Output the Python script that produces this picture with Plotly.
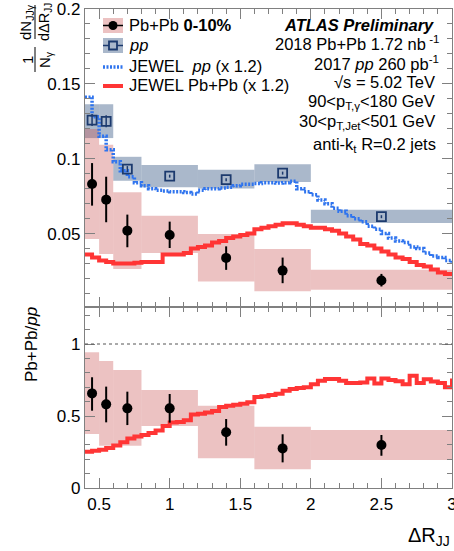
import plotly.graph_objects as go
from plotly.subplots import make_subplots

# ---------------- data ----------------
bin_lo = [0.4, 0.5, 0.6, 0.8, 1.2, 1.6, 2.0]
bin_hi = [0.5, 0.6, 0.8, 1.2, 1.6, 2.0, 3.0]
x_pts = [0.45, 0.55, 0.7, 1.0, 1.4, 1.8, 2.5]

pbpb_y = [0.0831, 0.0727, 0.052, 0.0491, 0.0338, 0.0253, 0.0187]
pbpb_err_up = [0.014, 0.0153, 0.0107, 0.0089, 0.0077, 0.0087, 0.0044]
pbpb_err_dn = [0.0144, 0.0151, 0.0111, 0.0087, 0.008, 0.0084, 0.004]
pbpb_sys_hi = [0.1198, 0.1093, 0.0776, 0.062, 0.0498, 0.0398, 0.0258]
pbpb_sys_lo = [0.0464, 0.0364, 0.0264, 0.0371, 0.018, 0.0115, 0.0125]

pp_y = [0.1258, 0.125, 0.0931, 0.0884, 0.086, 0.0904, 0.0613]
pp_err = [0.004, 0.004, 0.002, 0.001, 0.001, 0.001, 0.001]
pp_sys_hi = [0.1364, 0.1364, 0.1013, 0.0958, 0.0927, 0.0964, 0.066]
pp_sys_lo = [0.1138, 0.1138, 0.0853, 0.081, 0.0802, 0.0844, 0.0571]

ratio_y = [0.657, 0.581, 0.553, 0.553, 0.387, 0.275, 0.299]
ratio_err_up = [0.112, 0.123, 0.116, 0.1, 0.092, 0.098, 0.069]
ratio_err_dn = [0.12, 0.125, 0.116, 0.099, 0.093, 0.097, 0.075]
ratio_sys_hi = [0.942, 0.882, 0.819, 0.681, 0.572, 0.426, 0.403]
ratio_sys_lo = [0.375, 0.294, 0.294, 0.431, 0.206, 0.130, 0.194]

jewel_x = [0.40, 0.45, 0.50, 0.55, 0.60, 0.65, 0.70, 0.75, 0.80, 0.85,
           0.90, 0.95, 1.00, 1.05, 1.10, 1.15, 1.20, 1.25, 1.30, 1.35,
           1.40, 1.45, 1.50, 1.55, 1.60, 1.65, 1.70, 1.75, 1.80, 1.85,
           1.90, 1.95, 2.00, 2.05, 2.10, 2.15, 2.20, 2.25, 2.30, 2.35,
           2.40, 2.45, 2.50, 2.55, 2.60, 2.65, 2.70, 2.75, 2.80, 2.85,
           2.90, 2.95, 3.00]
jewel_pp = [0.141, 0.128, 0.115, 0.106, 0.098, 0.092, 0.088, 0.084, 0.082, 0.080,
            0.079, 0.0785, 0.078, 0.078, 0.0775, 0.0765, 0.079, 0.080, 0.080, 0.0805,
            0.081, 0.082, 0.083, 0.083, 0.0835, 0.084, 0.084, 0.0838, 0.084, 0.085,
            0.080, 0.078, 0.076, 0.0725, 0.070, 0.067, 0.065, 0.062, 0.060, 0.058,
            0.055, 0.053, 0.050, 0.047, 0.045, 0.044, 0.041, 0.040, 0.037, 0.035,
            0.034, 0.032, 0.030]
jewel_pbpb = [0.036, 0.034, 0.032, 0.031, 0.030, 0.030, 0.030, 0.0305, 0.031, 0.031,
              0.031, 0.036, 0.036, 0.036, 0.037, 0.040, 0.041, 0.042, 0.044, 0.045,
              0.047, 0.048, 0.049, 0.050, 0.053, 0.054, 0.055, 0.056, 0.057, 0.057,
              0.056, 0.055, 0.054, 0.054, 0.053, 0.052, 0.050, 0.048, 0.046, 0.043,
              0.042, 0.040, 0.038, 0.036, 0.034, 0.033, 0.031, 0.029, 0.028, 0.026,
              0.024, 0.023, 0.023]
jewel_ratio = [0.252, 0.258, 0.266, 0.278, 0.295, 0.318, 0.343, 0.358, 0.368, 0.382,
               0.400, 0.430, 0.455, 0.458, 0.470, 0.510, 0.516, 0.525, 0.535, 0.562,
               0.572, 0.578, 0.585, 0.595, 0.632, 0.638, 0.645, 0.655, 0.675, 0.688,
               0.695, 0.700, 0.720, 0.745, 0.757, 0.757, 0.745, 0.730, 0.730, 0.732,
               0.760, 0.725, 0.760, 0.750, 0.742, 0.720, 0.780, 0.730, 0.755, 0.740,
               0.730, 0.700, 0.760]

x_tickvals = [0.5, 1.0, 1.5, 2.0, 2.5, 3.0]
x_ticktext = ["0.5", "1", "1.5", "2", "2.5", "3"]

# ---------------- styles ----------------
FONT = "Liberation Sans, Arial, sans-serif"
PINK = "rgba(200,80,80,0.35)"
GREY = "rgba(100,125,160,0.55)"
NAVY = "#1c3a6e"
BLUE = "#2f74ee"
RED = "#ff3535"
AX = "#808080"
BLUE_DASH = "2px,1.5px"

W, H = 454, 551
ML, MR, MT, MB = 85, 2, 9, 63
PW, PH = W - ML - MR, H - MT - MB
split = (488 - 307) / PH


def px(x):
    return (x - ML) / PW


def py(y):
    return (H - MB - y) / PH


fig = make_subplots(rows=2, cols=1, shared_xaxes=True, vertical_spacing=0,
                    row_heights=[1 - split, split])

shapes = []
for lo, hi, a, b in zip(bin_lo, bin_hi, pp_sys_lo, pp_sys_hi):
    shapes.append(dict(type="rect", xref="x", yref="y", x0=lo, x1=hi, y0=a, y1=b,
                       fillcolor=GREY, line=dict(width=0), layer="below"))
for lo, hi, a, b in zip(bin_lo, bin_hi, pbpb_sys_lo, pbpb_sys_hi):
    shapes.append(dict(type="rect", xref="x", yref="y", x0=lo, x1=hi, y0=a, y1=b,
                       fillcolor=PINK, line=dict(width=0), layer="below"))
for lo, hi, a, b in zip(bin_lo, bin_hi, ratio_sys_lo, ratio_sys_hi):
    shapes.append(dict(type="rect", xref="x2", yref="y2", x0=lo, x1=hi, y0=a, y1=b,
                       fillcolor=PINK, line=dict(width=0), layer="below"))
shapes.append(dict(type="line", xref="x2 domain", yref="y2", x0=0, x1=1, y0=1, y1=1,
                   line=dict(color="#555", width=1, dash="dot")))

fig.add_trace(go.Scatter(x=jewel_x, y=jewel_pp, mode="lines", line_shape="hv",
                         line=dict(color=BLUE, width=3.5, dash=BLUE_DASH),
                         showlegend=False, hoverinfo="skip"), row=1, col=1)
fig.add_trace(go.Scatter(x=jewel_x, y=jewel_pbpb, mode="lines", line_shape="hv",
                         line=dict(color=RED, width=4), showlegend=False,
                         hoverinfo="skip"), row=1, col=1)
fig.add_trace(go.Scatter(x=jewel_x, y=jewel_ratio, mode="lines", line_shape="hv",
                         line=dict(color=RED, width=4), showlegend=False,
                         hoverinfo="skip"), row=2, col=1)

fig.add_trace(go.Scatter(x=x_pts, y=pp_y, mode="markers",
                         marker=dict(symbol="square-open", size=9, color=NAVY,
                                     line=dict(width=1.8, color=NAVY)),
                         error_y=dict(type="data", array=pp_err, color=NAVY,
                                      thickness=1.5, width=0),
                         showlegend=False), row=1, col=1)
fig.add_trace(go.Scatter(x=x_pts, y=pbpb_y, mode="markers",
                         marker=dict(symbol="circle", size=10, color="black"),
                         error_y=dict(type="data", symmetric=False, array=pbpb_err_up,
                                      arrayminus=pbpb_err_dn, color="black",
                                      thickness=2, width=0),
                         showlegend=False), row=1, col=1)
fig.add_trace(go.Scatter(x=x_pts, y=ratio_y, mode="markers",
                         marker=dict(symbol="circle", size=10, color="black"),
                         error_y=dict(type="data", symmetric=False, array=ratio_err_up,
                                      arrayminus=ratio_err_dn, color="black",
                                      thickness=2, width=0),
                         showlegend=False), row=2, col=1)

# ---------------- legend (manual) ----------------
lx0, lx1 = px(103), px(123)
shapes.append(dict(type="rect", xref="paper", yref="paper", x0=lx0, x1=lx1,
                   y0=py(33), y1=py(18), fillcolor=PINK, line=dict(width=0)))
shapes.append(dict(type="line", xref="paper", yref="paper", x0=lx0, x1=lx1,
                   y0=py(25.5), y1=py(25.5), line=dict(color="black", width=1.5)))
shapes.append(dict(type="circle", xref="paper", yref="paper", x0=px(108.5), x1=px(117.5),
                   y0=py(30), y1=py(21), fillcolor="black", line=dict(width=0)))
shapes.append(dict(type="rect", xref="paper", yref="paper", x0=lx0, x1=lx1,
                   y0=py(53), y1=py(38), fillcolor=GREY, line=dict(width=0)))
shapes.append(dict(type="line", xref="paper", yref="paper", x0=lx0, x1=lx1,
                   y0=py(45.5), y1=py(45.5), line=dict(color=NAVY, width=1.5)))
shapes.append(dict(type="rect", xref="paper", yref="paper", x0=px(109), x1=px(117),
                   y0=py(49.5), y1=py(41.5), fillcolor="rgb(170,184,203)",
                   line=dict(color=NAVY, width=1.8)))
shapes.append(dict(type="line", xref="paper", yref="paper", x0=lx0, x1=lx1,
                   y0=py(67), y1=py(67), line=dict(color=BLUE, width=3.5, dash=BLUE_DASH)))
shapes.append(dict(type="line", xref="paper", yref="paper", x0=lx0, x1=lx1,
                   y0=py(86), y1=py(86), line=dict(color=RED, width=4)))

# y-title fraction lines
shapes.append(dict(type="line", xref="paper", yref="paper", x0=px(35), x1=px(35),
                   y0=py(5), y1=py(39), line=dict(color="black", width=1)))
shapes.append(dict(type="line", xref="paper", yref="paper", x0=px(35), x1=px(35),
                   y0=py(47), y1=py(72), line=dict(color="black", width=1)))

annotations = []


def ann(text, x, y, xanchor="left", size=16, angle=0, yanchor="middle"):
    annotations.append(dict(text=text, x=px(x), y=py(y), xref="paper", yref="paper",
                            xanchor=xanchor, yanchor=yanchor, showarrow=False,
                            textangle=angle,
                            font=dict(family=FONT, size=size, color="black")))


ann("Pb+Pb <b>0-10%</b>", 127, 25.5, size=16.5)
ann("<i>pp</i>", 127, 45.5, size=16.5)
ann("JEWEL  <i>pp</i> (x 1.2)", 127, 66, size=16.5)
ann("JEWEL Pb+Pb (x 1.2)", 127, 85.5, size=16.5)

ann("<b><i>ATLAS Preliminary</i></b>", 436, 25, xanchor="right", size=16.5)
ann("2018 Pb+Pb 1.72 nb<sup> -1</sup>", 441, 43, xanchor="right", size=16.5)
ann("2017 <i>pp</i> 260 pb<sup>-1</sup>", 441, 63, xanchor="right", size=16.5)
ann("√s = 5.02 TeV", 437, 82, xanchor="right", size=16.5)
ann("90<p<sub>T,γ</sub><180 GeV", 437, 102, xanchor="right", size=16.5)
ann("30<p<sub>T,Jet</sub><501 GeV", 437, 122, xanchor="right", size=16.5)
ann("anti-k<sub>t</sub> R=0.2 jets", 438, 145, xanchor="right", size=16.5)

# y-axis titles (ROOT-style stacked fractions, rotated)
ann("dN<sub>JJγ</sub>", 26, 22, xanchor="center", size=15, angle=-90)
ann("dΔR<sub>JJ</sub>", 45, 22, xanchor="center", size=14.5, angle=-90)
ann("1", 27, 60, xanchor="center", size=15, angle=-90)
ann("N<sub>γ</sub>", 45, 60, xanchor="center", size=15, angle=-90)
ann("Pb+Pb/<i>pp</i>", 31, 345, xanchor="center", size=17, angle=-90)
ann("ΔR<sub>JJ</sub>", 452, 536, xanchor="right", size=20)

axis_common = dict(showline=True, linecolor=AX, linewidth=1.3, mirror="allticks",
                   ticks="inside", tickcolor=AX, tickwidth=1, automargin=False,
                   showgrid=False, zeroline=False, ticklabeloverflow="allow",
                   tickfont=dict(family=FONT, size=17, color="black"))

fig.update_xaxes(range=[0.4, 3.0], tickvals=x_tickvals, ticktext=x_ticktext,
                 ticklen=10,
                 minor=dict(dtick=0.1, tick0=0.4, ticklen=5, ticks="inside",
                            tickcolor=AX, showgrid=False),
                 **axis_common)
fig.update_xaxes(showticklabels=False, row=1, col=1)
fig.update_yaxes(range=[0.001, 0.2], tickvals=[0.05, 0.1, 0.15, 0.2],
                 ticktext=["0.05", "0.1", "0.15", "0.2"], ticklen=10,
                 minor=dict(dtick=0.01, tick0=0, ticklen=5, ticks="inside",
                            tickcolor=AX, showgrid=False),
                 row=1, col=1, **axis_common)
fig.update_yaxes(range=[0, 1.257], tickvals=[0, 0.5, 1], ticktext=["0", "0.5", "1"],
                 ticklen=10,
                 minor=dict(dtick=0.1, tick0=0, ticklen=5, ticks="inside",
                            tickcolor=AX, showgrid=False),
                 row=2, col=1, **axis_common)

fig.update_layout(width=W, height=H, margin=dict(l=ML, r=MR, t=MT, b=MB),
                  paper_bgcolor="white", plot_bgcolor="white",
                  shapes=shapes, annotations=annotations, showlegend=False,
                  font=dict(family=FONT))

fig.write_html("out.html")
